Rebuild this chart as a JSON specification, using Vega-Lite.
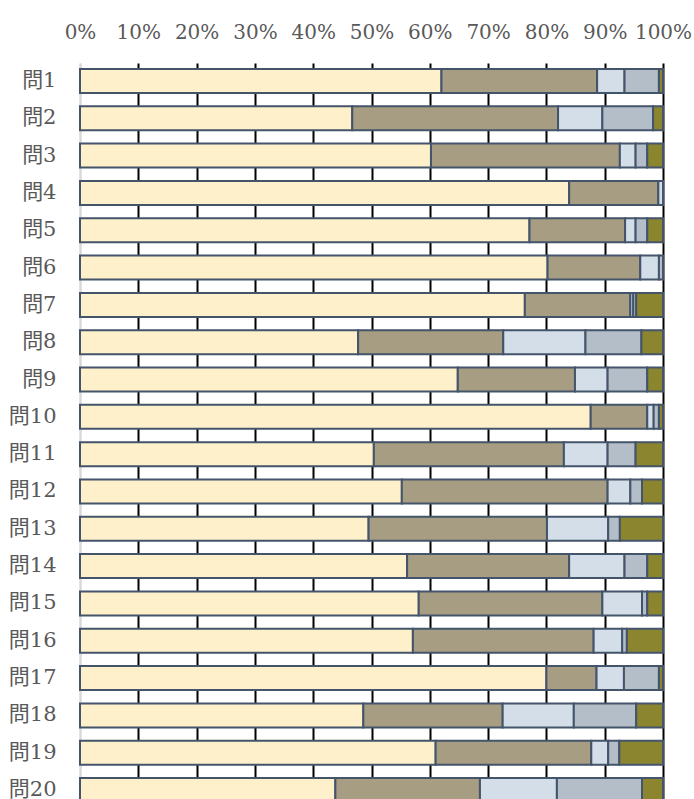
{
  "$schema": "https://vega.github.io/schema/vega-lite/v6.json",
  "width": 583,
  "height": 745,
  "autosize": "none",
  "padding": {"left": 80, "top": 63, "right": 31, "bottom": 0},
  "background": "white",
  "config": {"view": {"stroke": null}, "font": "DejaVu Serif"},
  "data": {"values": [
    {"q":"問1","s":1,"v":62.0},{"q":"問1","s":2,"v":26.7},{"q":"問1","s":3,"v":4.7},{"q":"問1","s":4,"v":5.9},{"q":"問1","s":5,"v":0.7},
    {"q":"問2","s":1,"v":46.7},{"q":"問2","s":2,"v":35.3},{"q":"問2","s":3,"v":7.6},{"q":"問2","s":4,"v":8.7},{"q":"問2","s":5,"v":1.7},
    {"q":"問3","s":1,"v":60.2},{"q":"問3","s":2,"v":32.4},{"q":"問3","s":3,"v":2.7},{"q":"問3","s":4,"v":2.0},{"q":"問3","s":5,"v":2.7},
    {"q":"問4","s":1,"v":83.9},{"q":"問4","s":2,"v":15.3},{"q":"問4","s":3,"v":0.8},
    {"q":"問5","s":1,"v":77.1},{"q":"問5","s":2,"v":16.4},{"q":"問5","s":3,"v":1.8},{"q":"問5","s":4,"v":2.0},{"q":"問5","s":5,"v":2.7},
    {"q":"問6","s":1,"v":80.2},{"q":"問6","s":2,"v":15.9},{"q":"問6","s":3,"v":3.2},{"q":"問6","s":4,"v":0.7},
    {"q":"問7","s":1,"v":76.3},{"q":"問7","s":2,"v":18.1},{"q":"問7","s":3,"v":0.5},{"q":"問7","s":4,"v":0.5},{"q":"問7","s":5,"v":4.6},
    {"q":"問8","s":1,"v":47.7},{"q":"問8","s":2,"v":24.9},{"q":"問8","s":3,"v":14.1},{"q":"問8","s":4,"v":9.6},{"q":"問8","s":5,"v":3.7},
    {"q":"問9","s":1,"v":64.8},{"q":"問9","s":2,"v":20.1},{"q":"問9","s":3,"v":5.6},{"q":"問9","s":4,"v":6.8},{"q":"問9","s":5,"v":2.7},
    {"q":"問10","s":1,"v":87.6},{"q":"問10","s":2,"v":9.7},{"q":"問10","s":3,"v":1.1},{"q":"問10","s":4,"v":0.9},{"q":"問10","s":5,"v":0.7},
    {"q":"問11","s":1,"v":50.4},{"q":"問11","s":2,"v":32.6},{"q":"問11","s":3,"v":7.5},{"q":"問11","s":4,"v":4.8},{"q":"問11","s":5,"v":4.7},
    {"q":"問12","s":1,"v":55.2},{"q":"問12","s":2,"v":35.3},{"q":"問12","s":3,"v":3.9},{"q":"問12","s":4,"v":2.0},{"q":"問12","s":5,"v":3.6},
    {"q":"問13","s":1,"v":49.5},{"q":"問13","s":2,"v":30.6},{"q":"問13","s":3,"v":10.5},{"q":"問13","s":4,"v":2.0},{"q":"問13","s":5,"v":7.4},
    {"q":"問14","s":1,"v":56.1},{"q":"問14","s":2,"v":27.8},{"q":"問14","s":3,"v":9.5},{"q":"問14","s":4,"v":3.9},{"q":"問14","s":5,"v":2.7},
    {"q":"問15","s":1,"v":58.1},{"q":"問15","s":2,"v":31.5},{"q":"問15","s":3,"v":6.8},{"q":"問15","s":4,"v":0.9},{"q":"問15","s":5,"v":2.7},
    {"q":"問16","s":1,"v":57.1},{"q":"問16","s":2,"v":31.0},{"q":"問16","s":3,"v":4.9},{"q":"問16","s":4,"v":0.8},{"q":"問16","s":5,"v":6.2},
    {"q":"問17","s":1,"v":80.0},{"q":"問17","s":2,"v":8.6},{"q":"問17","s":3,"v":4.7},{"q":"問17","s":4,"v":6.0},{"q":"問17","s":5,"v":0.7},
    {"q":"問18","s":1,"v":48.6},{"q":"問18","s":2,"v":23.9},{"q":"問18","s":3,"v":12.2},{"q":"問18","s":4,"v":10.7},{"q":"問18","s":5,"v":4.6},
    {"q":"問19","s":1,"v":61.0},{"q":"問19","s":2,"v":26.7},{"q":"問19","s":3,"v":2.9},{"q":"問19","s":4,"v":1.9},{"q":"問19","s":5,"v":7.5},
    {"q":"問20","s":1,"v":43.8},{"q":"問20","s":2,"v":24.8},{"q":"問20","s":3,"v":13.2},{"q":"問20","s":4,"v":14.6},{"q":"問20","s":5,"v":3.6}
  ]},
  "mark": {"type": "bar", "stroke": "#44546A", "strokeWidth": 2},
  "encoding": {
    "y": {
      "field": "q", "type": "nominal", "sort": null,
      "scale": {"paddingInner": 0.357, "paddingOuter": 0.16},
      "axis": {"title": null, "ticks": false, "tickSize": 0, "labelPadding": 24,
        "labelFont": "DejaVu Serif, Noto Sans CJK JP", "labelFontSize": 21, "labelColor": "#595959",
        "domainColor": "#D9D9D9", "domainWidth": 2, "grid": false}
    },
    "x": {
      "field": "v", "type": "quantitative", "stack": "normalize",
      "scale": {"domain": [0, 1], "nice": false},
      "axis": {"orient": "top", "title": null,
        "values": [0, 0.1, 0.2, 0.3, 0.4, 0.5, 0.6, 0.7, 0.8, 0.9, 1],
        "format": ".0%", "ticks": false, "tickSize": 0, "labelPadding": 21,
        "labelFont": "DejaVu Serif", "labelFontSize": 20, "labelColor": "#595959",
        "labelFlush": false, "domain": false, "grid": true,
        "gridColor": {"condition": {"test": "datum.value === 0", "value": "#D9D9D9"}, "value": "#000000"},
        "gridWidth": 2}
    },
    "color": {
      "field": "s", "type": "nominal",
      "scale": {"domain": [1, 2, 3, 4, 5], "range": ["#FDF0CB", "#A69D82", "#D3DEE9", "#B4BEC8", "#8C8530"]},
      "legend": null
    },
    "order": {"field": "s", "type": "quantitative"}
  }
}
